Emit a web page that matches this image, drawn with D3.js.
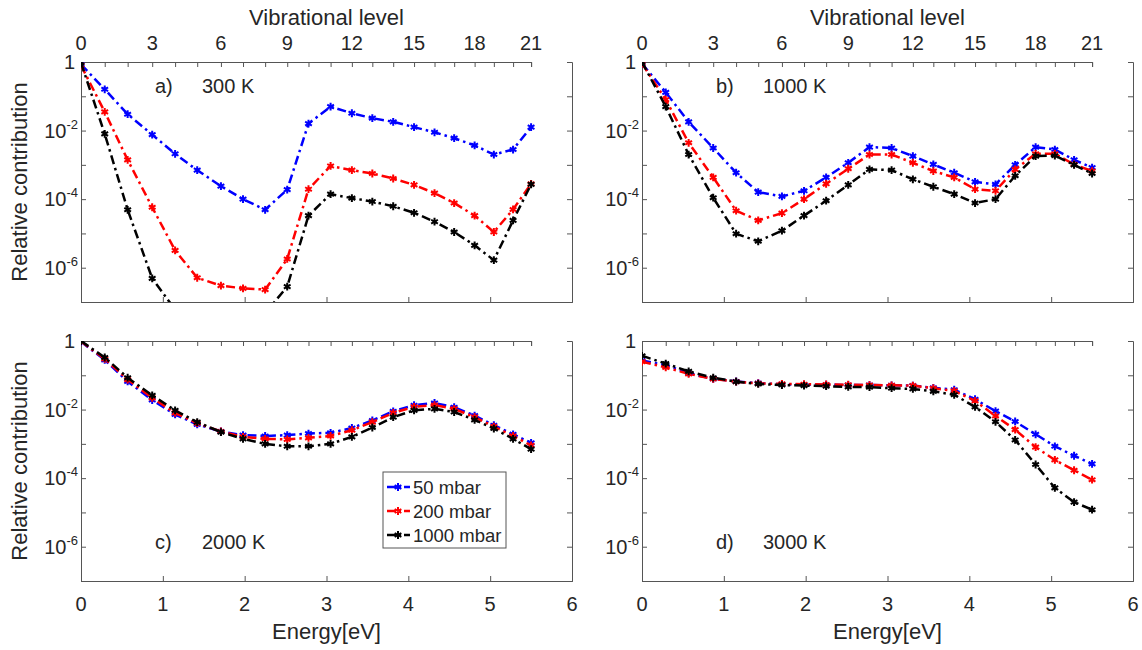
<!DOCTYPE html>
<html>
<head>
    <meta charset="utf-8" />
    <title>Relative contribution of vibrational levels</title>
    <style>
        body { margin: 0; background: #fff; }
        text { font-family: "Liberation Sans", Arial, sans-serif; fill: #262626; }
        .axis path, .axis line { stroke: #555; }
    </style>
</head>
<body>
    <div id="chart"></div>
    <script src="https://cdn.jsdelivr.net/npm/d3@7"></script>
    <script>
        var levels = [0, 1, 2, 3, 4, 5, 6, 7, 8, 9, 10, 11, 12, 13, 14, 15, 16, 17, 18, 19, 20, 21];
        var energies = [0, 0.29, 0.57, 0.87, 1.15, 1.42, 1.71, 1.98, 2.25, 2.52, 2.78, 3.05,
            3.31, 3.56, 3.815, 4.07, 4.32, 4.56, 4.81, 5.045, 5.28, 5.5];
        var energyTicks = [0, 1, 2, 3, 4, 5, 6];
        var decadeTicks = [1, 1e-1, 1e-2, 1e-3, 1e-4, 1e-5, 1e-6, 1e-7];
        var pressures = ["50 mbar", "200 mbar", "1000 mbar"];

        // a) 300 K
        var a50 = [0.85, 0.16, 0.030, 7.6e-3, 2.1e-3, 7e-4, 2.4e-4, 1e-4, 4.9e-5, 1.9e-4, 0.016,
            0.050, 0.032, 0.023, 0.018, 0.0126, 8.9e-3, 6e-3, 3.7e-3, 2e-3, 2.8e-3, 0.0126];
        var a200 = [0.8, 0.035, 1.4e-3, 5.8e-5, 3.2e-6, 5.1e-7, 3e-7, 2.5e-7, 2.3e-7, 1.8e-6, 1.95e-4,
            9.3e-4, 7e-4, 5.6e-4, 4e-4, 2.6e-4, 1.5e-4, 7.7e-5, 3.3e-5, 1.1e-5, 5e-5, 2.8e-4];
        var a1000 = [0.95, 8e-3, 4.9e-5, 4.9e-7, 6e-8, 1e-8, 4e-9, 5e-9, 4.7e-8, 2.8e-7, 3.3e-5,
            1.4e-4, 1.07e-4, 8.5e-5, 6.2e-5, 4e-5, 2.2e-5, 1.1e-5, 4.5e-6, 1.66e-6, 2.4e-5, 2.7e-4];
        // b) 1000 K
        var b50 = [0.9, 0.13, 0.018, 3.1e-3, 5.9e-4, 1.6e-4, 1.2e-4, 1.75e-4, 4.3e-4, 1.15e-3, 3.3e-3,
            3.1e-3, 1.8e-3, 1.03e-3, 5.9e-4, 3.2e-4, 2.7e-4, 1.0e-3, 3.3e-3, 2.8e-3, 1.4e-3, 8.3e-4];
        var b200 = [0.9, 0.08, 4.4e-3, 4.3e-4, 4.6e-5, 2.4e-5, 3.9e-5, 1e-4, 2.8e-4, 7.7e-4, 2e-3,
            2e-3, 1.15e-3, 6.6e-4, 4.3e-4, 1.95e-4, 1.75e-4, 7.4e-4, 2.1e-3, 2.1e-3, 1.03e-3, 6.6e-4];
        var b1000 = [1.0, 0.05, 2e-3, 1.1e-4, 9.8e-6, 5.9e-6, 1.2e-5, 3.3e-5, 9e-5, 2.6e-4, 7.4e-4,
            7e-4, 3.8e-4, 2.3e-4, 1.4e-4, 7.7e-5, 1e-4, 4.8e-4, 1.8e-3, 1.85e-3, 1e-3, 5.6e-4];
        // c) 2000 K
        var c50 = [0.95, 0.28, 0.066, 0.019, 7.2e-3, 3.7e-3, 2.3e-3, 1.8e-3, 1.7e-3, 1.8e-3, 2e-3,
            2.1e-3, 2.9e-3, 4.8e-3, 8.9e-3, 0.0134, 0.0156, 0.0117, 6.7e-3, 3.5e-3, 1.9e-3, 1.07e-3];
        var c200 = [0.97, 0.3, 0.075, 0.022, 8e-3, 4e-3, 2.3e-3, 1.6e-3, 1.4e-3, 1.35e-3, 1.5e-3,
            1.7e-3, 2.5e-3, 4.3e-3, 8e-3, 0.012, 0.0135, 0.0105, 6e-3, 3.2e-3, 1.7e-3, 9e-4];
        var c1000 = [1.0, 0.33, 0.085, 0.026, 9.5e-3, 4.3e-3, 2.2e-3, 1.4e-3, 1.0e-3, 8.5e-4, 8.5e-4,
            1.0e-3, 1.6e-3, 3.0e-3, 6.0e-3, 9.5e-3, 0.0105, 8.5e-3, 5e-3, 2.8e-3, 1.4e-3, 7e-4];
        // d) 3000 K
        var d50 = [0.27, 0.2, 0.115, 0.079, 0.066, 0.059, 0.055, 0.053, 0.053, 0.052, 0.052,
            0.051, 0.05, 0.043, 0.038, 0.02, 9e-3, 4.5e-3, 1.9e-3, 8.5e-4, 4.5e-4, 2.6e-4];
        var d200 = [0.25, 0.17, 0.11, 0.078, 0.065, 0.058, 0.056, 0.055, 0.054, 0.053, 0.052,
            0.051, 0.05, 0.042, 0.035, 0.018, 6.5e-3, 2.6e-3, 8e-4, 3.4e-4, 1.7e-4, 9e-5];
        var d1000 = [0.37, 0.22, 0.13, 0.085, 0.065, 0.056, 0.052, 0.05, 0.048, 0.046, 0.045,
            0.042, 0.04, 0.034, 0.027, 0.012, 4.4e-3, 1.3e-3, 2.5e-4, 5.2e-5, 2e-5, 1.2e-5];

        var panels = [
            { tag: "a)", temp: "300 K", series: [a50, a200, a1000], top: true, left: true },
            { tag: "b)", temp: "1000 K", series: [b50, b200, b1000], top: true, left: false },
            { tag: "c)", temp: "2000 K", series: [c50, c200, c1000], top: false, left: true, legend: true },
            { tag: "d)", temp: "3000 K", series: [d50, d200, d1000], top: false, left: false }
        ];
        var colors = ["#0000ff", "#ff0000", "#000000"];

        var width = 491, height = 240;
        var originsX = [81, 642], originsY = [62, 341];

        var svg = d3.select("#chart").append("svg")
            .attr("width", 1142)
            .attr("height", 650);

        var x = d3.scaleLinear().domain([0, 6]).range([0, width]);
        var y = d3.scaleLog().domain([1e-7, 1]).range([height, 0]);
        // vibrational level -> pixel, piecewise through the level energies
        var xv = d3.scaleLinear().domain(levels).range(energies.map(function (e) { return x(e); }));

        var line = d3.line()
            .x(function (d, i) { return x(energies[i]); })
            .y(function (d) { return y(d); });

        var asterisk = d3.symbol().type(d3.symbolAsterisk).size(42);

        panels.forEach(function (p, k) {
            var ox = originsX[k % 2], oy = originsY[Math.floor(k / 2)];
            var g = svg.append("g").attr("transform", "translate(" + ox + "," + oy + ")");

            g.append("clipPath").attr("id", "clip" + k)
                .append("rect").attr("width", width).attr("height", height);

            // axes (ticks inward on all four sides)
            g.append("g").attr("class", "axis")
                .attr("transform", "translate(0," + height + ")")
                .call(d3.axisBottom(x).tickValues(energyTicks).tickSize(-5).tickFormat(""));
            g.append("g").attr("class", "axis")
                .call(d3.axisTop(xv).tickValues(levels).tickSize(-5).tickFormat(""));
            g.append("g").attr("class", "axis")
                .call(d3.axisLeft(y).tickValues(decadeTicks).tickSize(-5).tickFormat(""));
            g.append("g").attr("class", "axis")
                .attr("transform", "translate(" + width + ",0)")
                .call(d3.axisRight(y).tickValues(decadeTicks).tickSize(-5).tickFormat(""));

            // y tick labels
            [1, 1e-2, 1e-4, 1e-6].forEach(function (v) {
                var t = g.append("text")
                    .attr("y", y(v) + 7)
                    .attr("text-anchor", "end")
                    .style("font-size", "20px");
                if (v === 1) {
                    t.attr("x", -6).text("1");
                } else {
                    t.attr("x", -3);
                    t.append("tspan").text("10");
                    t.append("tspan").attr("dy", -9).style("font-size", "13px")
                        .text(String(Math.round(Math.log10(v))));
                }
            });

            if (p.top) {
                g.selectAll(".vlabel")
                    .data(levels.filter(function (v) { return v % 3 === 0; }))
                    .join("text")
                    .attr("x", function (v) { return xv(v); })
                    .attr("y", -12)
                    .attr("text-anchor", "middle")
                    .style("font-size", "20px")
                    .text(function (v) { return v; });
                g.append("text")
                    .attr("x", width / 2)
                    .attr("y", -37)
                    .attr("text-anchor", "middle")
                    .style("font-size", "22px")
                    .text("Vibrational level");
            } else {
                g.selectAll(".elabel")
                    .data(energyTicks)
                    .join("text")
                    .attr("x", function (v) { return x(v); })
                    .attr("y", height + 30)
                    .attr("text-anchor", "middle")
                    .style("font-size", "20px")
                    .text(function (v) { return v; });
                g.append("text")
                    .attr("x", width / 2)
                    .attr("y", height + 58)
                    .attr("text-anchor", "middle")
                    .style("font-size", "22px")
                    .text("Energy[eV]");
            }
            if (p.left) {
                g.append("text")
                    .attr("transform", "translate(" + (-54) + "," + (height / 2) + ") rotate(-90)")
                    .attr("text-anchor", "middle")
                    .style("font-size", "22px")
                    .text("Relative contribution");
            }

            // panel tags
            var tagY = p.top ? 31 : 208;
            g.append("text").attr("x", 74).attr("y", tagY).style("font-size", "20px").text(p.tag);
            g.append("text").attr("x", 121).attr("y", tagY).style("font-size", "20px").text(p.temp);

            // series
            var plot = g.append("g").attr("clip-path", "url(#clip" + k + ")");
            p.series.forEach(function (s, j) {
                plot.append("path")
                    .datum(s)
                    .attr("d", line)
                    .attr("fill", "none")
                    .attr("stroke", colors[j])
                    .attr("stroke-width", 2.5)
                    .attr("stroke-dasharray", "9,4,2.5,4");
                plot.selectAll(".m" + j)
                    .data(s)
                    .join("path")
                    .attr("class", "m" + j)
                    .attr("transform", function (d, i) { return "translate(" + x(energies[i]) + "," + y(d) + ")"; })
                    .attr("d", asterisk)
                    .attr("fill", "none")
                    .attr("stroke", colors[j])
                    .attr("stroke-width", 2);
            });

            if (p.legend) {
                var lg = g.append("g").attr("transform", "translate(302,131)");
                lg.append("rect")
                    .attr("width", 123).attr("height", 76)
                    .attr("fill", "#fff").attr("stroke", "#555").attr("stroke-width", 1);
                pressures.forEach(function (name, j) {
                    var ly = 15 + j * 24;
                    lg.append("line")
                        .attr("x1", 4).attr("x2", 27).attr("y1", ly).attr("y2", ly)
                        .attr("stroke", colors[j]).attr("stroke-width", 2.5)
                        .attr("stroke-dasharray", "9,3,2,3");
                    lg.append("path")
                        .attr("transform", "translate(15," + ly + ")")
                        .attr("d", asterisk)
                        .attr("fill", "none").attr("stroke", colors[j]).attr("stroke-width", 2);
                    lg.append("text")
                        .attr("x", 30).attr("y", ly + 7)
                        .style("font-size", "18.5px")
                        .text(name);
                });
            }
        });
    </script>
</body>
</html>
